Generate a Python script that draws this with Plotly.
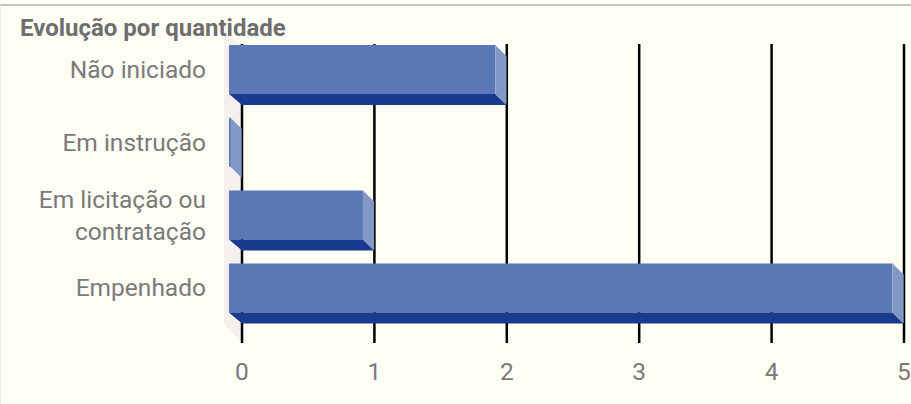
import plotly.graph_objects as go

categories = ["Não iniciado", "Em instrução", "Em licitação ou<br>contratação", "Empenhado"]
values = [2, 0, 1, 5]
x_ticks = [0, 1, 2, 3, 4, 5]
title_text = "Evolução por quantidade"

W, H = 911, 404
L, R, T, B = 224, 911, 33, 343
PX_X = 132.4   # pixels per x unit
X0 = 242       # pixel of x = 0
PX_Y = 72.8    # pixels per category
Y0 = 69.5      # pixel of first category
dx = 11.5 / PX_X
base = -13 / PX_X
gap = 0.3 / PX_X
dy = 11 / PX_Y
h = 49 / PX_Y

FRONT, SIDE, BOTTOM, WALL = "#5a78b5", "#8299c8", "#183a8f", "#f4f1ec"
BG, TEXT = "#fffff5", "#7a7a7a"
ypos = list(range(len(categories)))

fig = go.Figure()

# back wall and grid lines sit below the traces
wx = (L - X0) / PX_X
wy = [(35 - Y0) / PX_Y, (44 - Y0) / PX_Y, (343 - Y0) / PX_Y, (324 - Y0) / PX_Y]
shapes = [dict(type="path", xref="x", yref="y", layer="below", line=dict(width=0), fillcolor=WALL,
               path=f"M {wx} {wy[0]} L 0 {wy[1]} L 0 {wy[2]} L {wx} {wy[3]} Z")]
ytop, ybot = (44 - Y0) / PX_Y, (B - Y0) / PX_Y
for t in x_ticks:
    shapes.append(dict(type="line", xref="x", yref="y", layer="below", x0=t, x1=t, y0=ytop, y1=ybot,
                       line=dict(color="#000000", width=2.5)))
# frame of the card: top rule and faint left edge
px = lambda p: (p - L) / (R - L)
py = lambda p: (B - p) / (B - T)
shapes.append(dict(type="line", xref="paper", yref="paper", x0=px(0), x1=px(W), y0=py(5), y1=py(5),
                   line=dict(color="#b5b5ad", width=1.5)))
shapes.append(dict(type="line", xref="paper", yref="paper", x0=px(0.5), x1=px(0.5), y0=py(5), y1=py(H),
                   line=dict(color="#ececE4", width=1)))

fig.add_trace(go.Bar(y=ypos, x=[v + 13 / PX_X - dx for v in values], base=base, orientation="h", width=h,
                     marker=dict(color=FRONT, line=dict(width=0)), hoverinfo="skip"))
for y, v in zip(ypos, values):
    top, bot = y - h / 2, y + h / 2
    if v > 0:
        fig.add_trace(go.Scatter(x=[base, v - dx, v - gap, 0], y=[bot, bot, bot + dy, bot + dy],
                                 fill="toself", fillcolor=BOTTOM, mode="none", hoverinfo="skip"))
    fig.add_trace(go.Scatter(x=[v - dx, v - gap, v - gap, v - dx], y=[top, top + dy, bot + dy, bot],
                             fill="toself", fillcolor=SIDE, mode="none", hoverinfo="skip"))

fig.update_layout(
    width=W, height=H, autosize=False, showlegend=False, shapes=shapes,
    margin=dict(l=L, r=W - R, t=T, b=H - B, pad=0),
    paper_bgcolor=BG, plot_bgcolor=BG,
    font=dict(family="Roboto", color=TEXT, size=24.5),
    title=dict(text=f"<b>{title_text}</b>", x=20 / W, xanchor="left", xref="container",
               y=1 - 28 / H, yanchor="middle", yref="container",
               font=dict(size=24, color="#6e6e6e", family="Roboto")),
    xaxis=dict(range=[(L - X0) / PX_X, (R - X0) / PX_X], tickvals=x_ticks, showgrid=False,
               zeroline=False, showline=False, ticks="", ticklabelstandoff=11, fixedrange=True),
    yaxis=dict(range=[(B - Y0) / PX_Y, (T - Y0) / PX_Y], tickvals=ypos, ticktext=categories,
               showgrid=False, zeroline=False, showline=False, ticks="", ticklabelstandoff=17, fixedrange=True),
)
fig.write_html("out.html", config=dict(displayModeBar=False),
               post_script="document.body.style.margin='0';document.body.style.background='#fffff5';")
